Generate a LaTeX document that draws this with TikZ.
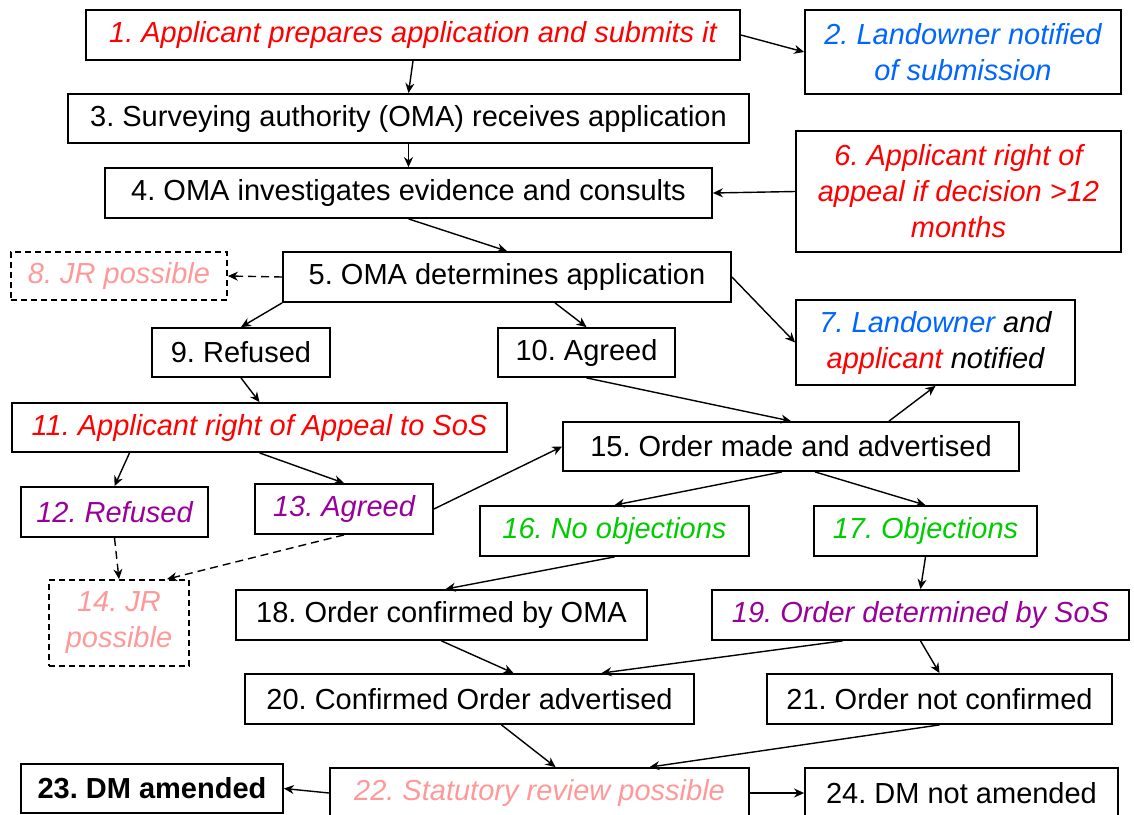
\documentclass[tikz,border=0pt]{standalone}
\usepackage{fontspec}
\setmainfont{Liberation Sans}
\usetikzlibrary{arrows.meta}
\frenchspacing

\definecolor{appred}{RGB}{255,0,0}
\definecolor{ownblue}{RGB}{0,102,255}
\definecolor{sospurple}{RGB}{153,0,153}
\definecolor{objgreen}{RGB}{0,204,0}
\definecolor{jrpink}{RGB}{255,153,153}

\def\boxfont{\fontsize{14.5}{18}\selectfont}
\tikzstyle{box}=[draw,line width=0.9pt,inner sep=0pt,align=center,font=\boxfont]
\tikzstyle{itbox}=[box,font=\boxfont\itshape]
\tikzstyle{jrbox}=[itbox,dash pattern=on 3pt off 2pt,text=jrpink]
\tikzstyle{flow}=[line width=0.7pt,-{Stealth[length=5pt,width=4.5pt]}]
\tikzstyle{jrflow}=[flow,dash pattern=on 4pt off 2.5pt]
\tikzset{sz/.style 2 args={minimum width=#1*0.5pt,minimum height=#2*0.5pt}}

\begin{document}
\begin{tikzpicture}[x=0.5pt,y=-0.5pt]
\useasboundingbox (0,0) rectangle (1134,814);
\clip (0,0) rectangle (1134,814);

% application and determination
\node[itbox,sz={654}{50},text=appred] (n1) at (413,35) {1. Applicant prepares application and submits it};
\node[itbox,sz={316}{84},text=ownblue] (n2) at (963,52) {2. Landowner notified\\of submission};
\node[box,sz={681}{49}] (n3) at (408.5,118.5) {3. Surveying authority (OMA) receives application};
\node[box,sz={607}{50}] (n4) at (408.5,193) {4. OMA investigates evidence and consults};
\node[itbox,sz={325}{121},text=appred] (n6) at (958.5,191.5) {6. Applicant right of\\appeal if decision >12\\months};
\node[jrbox,sz={216}{48}] (n8) at (119,276) {8. JR possible};
\node[box,sz={448}{50}] (n5) at (507,277) {5. OMA determines application};
\node[box,sz={178}{49}] (n9) at (241,352.5) {9. Refused};
\node[box,sz={177}{49}] (n10) at (586.5,352.5) {10. Agreed};
\node[itbox,sz={279}{85}] (n7) at (935.5,342.5) {\textcolor{ownblue}{7. Landowner} and\\\textcolor{appred}{applicant} notified};

% appeal and order
\node[itbox,sz={495}{49},text=appred] (n11) at (259.5,427.5) {11. Applicant right of Appeal to SoS};
\node[box,sz={456}{49}] (n15) at (791,446.5) {15. Order made and advertised};
\node[itbox,sz={187}{50},text=sospurple] (n12) at (114.5,512) {12. Refused};
\node[itbox,sz={178}{50},text=sospurple] (n13) at (344,509) {13. Agreed};
\node[itbox,sz={269}{50},text=objgreen] (n16) at (614.5,531) {16. No objections};
\node[itbox,sz={223}{50},text=objgreen] (n17) at (925.5,531) {17. Objections};
\node[jrbox,sz={140}{86}] (n14) at (119,623) {14. JR\\possible};
\node[box,sz={411}{50}] (n18) at (441.5,615) {18. Order confirmed by OMA};
\node[itbox,sz={417}{50},text=sospurple] (n19) at (920.5,615) {19. Order determined by SoS};
\node[box,sz={449}{50}] (n20) at (469.5,699) {20. Confirmed Order advertised};
\node[box,sz={345}{50}] (n21) at (939.5,699) {21. Order not confirmed};
\node[box,sz={262}{49},font=\boxfont\bfseries] (n23) at (152,788.5) {23. DM amended};
\node[itbox,sz={419}{50},text=jrpink] (n22) at (539.5,793) {22. Statutory review possible};
\node[box,sz={313}{50}] (n24) at (961.5,793) {24. DM not amended};

\draw[flow] (n1.south) -- (n3.north);
\draw[flow] (n1.east) -- (n2.west);
\draw[flow] (n3.south) -- (n4.north);
\draw[flow] (n6.west) -- (n4.east);
\draw[flow] (n4.south) -- (n5.north);
\draw[jrflow] (n5.west) -- (n8.east);
\draw[flow] (n5.south west) -- (n9.north);
\draw[flow] ([xshift=24pt]n5.south) -- (n10.north);
\draw[flow] (n5.east) -- (n7.west);
\draw[flow] (n9.south) -- (n11.north);
\draw[flow] (n10.south) -- (n15.north);
\draw[flow] ([xshift=49pt]n15.north) -- (n7.south);
\draw[flow] ([xshift=-65pt]n11.south) -- (n12.north);
\draw[flow] (n11.south) -- (n13.north);
\draw[flow] (n13.east) -- (n15.west);
\draw[jrflow] (n12.south) -- (n14.north);
\draw[jrflow] (n13.south) -- ([xshift=24pt]n14.north);
\draw[flow] ([xshift=-4.5pt]n15.south) -- (n16.north);
\draw[flow] ([xshift=12pt]n15.south) -- (n17.north);
\draw[flow] (n16.south) -- ([xshift=2pt]n18.north);
\draw[flow] (n17.south) -- (n19.north);
\draw[flow] (n18.south) -- ([xshift=22pt]n20.north);
\draw[flow] ([xshift=-39pt]n19.south) -- ([xshift=66pt]n20.north);
\draw[flow] (n19.south) -- (n21.north);
\draw[flow] ([xshift=16pt]n20.south) -- ([xshift=8pt]n22.north);
\draw[flow] (n21.south) -- ([xshift=55pt]n22.north);
\draw[flow] (n22.west) -- (n23.east);
\draw[flow] (n22.east) -- (n24.west);
\end{tikzpicture}
\end{document}
